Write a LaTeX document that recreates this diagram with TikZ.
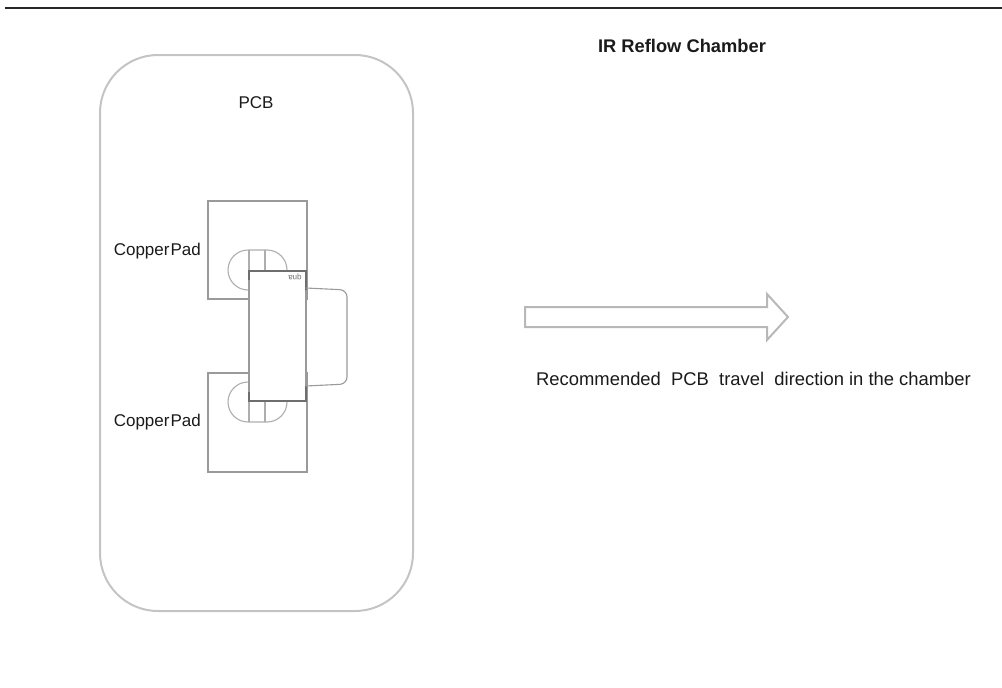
\documentclass[tikz,border=0pt]{standalone}
\usepackage{fontspec}
\setmainfont{Liberation Sans}
\definecolor{pcbgray}{HTML}{C4C4C4}
\definecolor{padgray}{HTML}{9A9A9A}
\definecolor{bodygray}{HTML}{6E6E6E}
\definecolor{arrowgray}{HTML}{B8B8B8}
\definecolor{txt}{HTML}{1A1A1A}
\begin{document}
\begin{tikzpicture}[x=1pt,y=-1pt,
  lbl/.style={inner sep=0pt,text=txt,font=\fontsize{17}{20}\selectfont},
  padline/.style={draw=padgray,line width=1.1pt},
  solder/.style={draw=padgray!80,line width=1.1pt},
  bodyline/.style={draw=bodygray,line width=1.8pt}]
\useasboundingbox (0,0) rectangle (1002,688);
% top rule
\draw[line width=1.8pt,draw=black!85] (5,8) -- (1002,8);
% PCB board
\draw[draw=pcbgray,line width=2pt,rounded corners=58pt] (100,55) rectangle (413,611);
\node[lbl] (pcb) at (256,103) {PCB};
% copper pads
\draw[padline] (208,201) rectangle (307,299);
\draw[padline] (208,373) rectangle (307,472);
\node[lbl,anchor=east] (cp1) at (201,251) {Copper\hspace{1pt}Pad};
\node[lbl,anchor=east] (cp2) at (201,422) {Copper\hspace{1pt}Pad};
% solder joints (stadiums)
\draw[solder,rounded corners=20pt] (228,250) rectangle (287,290);
\draw[solder] (249,250) -- (249,290) (265,250) -- (265,290);
\draw[solder,rounded corners=20pt] (228,382) rectangle (287,422);
\draw[solder] (249,382) -- (249,422) (265,382) -- (265,422);
% component body
\fill[white] (249,271) rectangle (306,401);
\draw[padline] (249,271) rectangle (306,401);
\draw[bodyline] (249,280) -- (249,271) -- (306,271) -- (306,290);
\draw[bodyline] (249,392) -- (249,401) -- (306,401) -- (306,386);
% tab
\draw[draw=padgray,line width=1.1pt,rounded corners=7pt] (306,288) -- (347,290) -- (347,384) -- (306,386);
\node[inner sep=0pt,text=bodygray,font=\fontsize{8}{9}\selectfont,rotate=180] (mark) at (295,277) {qna};
% chamber title
\node[lbl,font=\fontsize{18.3}{21}\bfseries] (title) at (682,46) {IR Reflow Chamber};
% direction arrow
\draw[draw=arrowgray,line width=2pt,line join=miter] (525,307) -- (767,307) -- (767,294) -- (788,317) -- (767,340) -- (767,327) -- (525,327) -- cycle;
\node[lbl,anchor=west,font=\fontsize{18.4}{21}\selectfont] (dir) at (536,379) {Recommended\ \ PCB\ \ travel\ \ direction\ in\ the\ chamber};
\end{tikzpicture}
\end{document}
